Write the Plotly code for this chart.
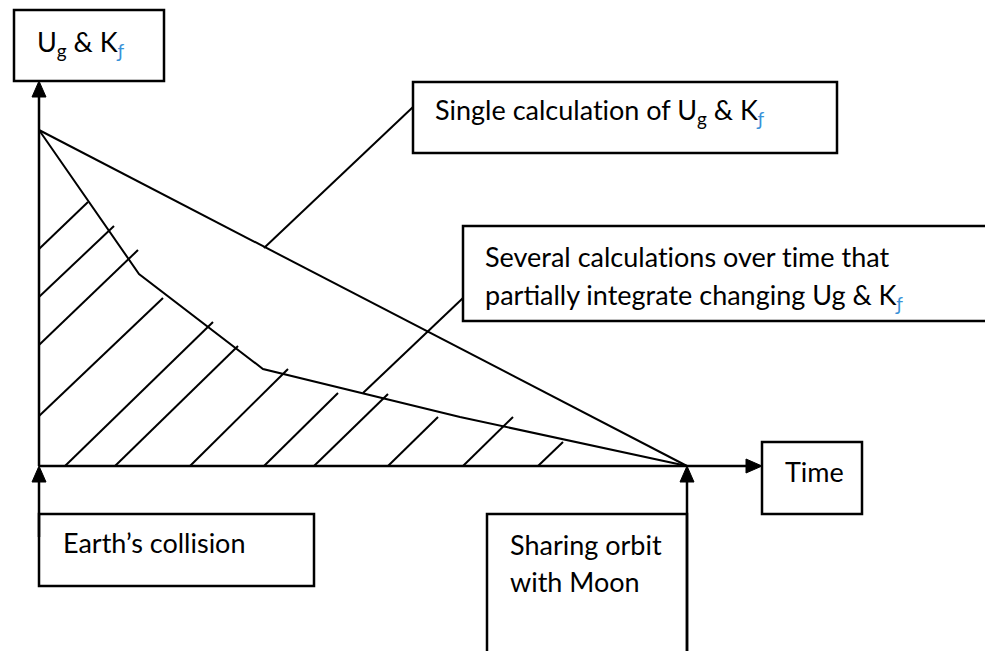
import plotly.graph_objects as go

# canvas coordinates (x to the right, y downward), origin of the axes at (39, 466)
ORIGIN_X, ORIGIN_Y = 39, 466
Y_AXIS_TIP = 81
X_AXIS_TIP = 762

# single calculation: straight line from peak to end
single_x = [39, 687]
single_y = [130, 466]

# several calculations: piecewise line
several_x = [39, 139, 263, 460, 687]
several_y = [130, 274, 369, 417, 466]

# hatch segments under the piecewise line
hatch_x0 = [39, 39, 39, 39, 65, 115, 190, 264, 314, 388, 463, 538]
hatch_y0 = [249, 297, 345, 416, 466, 466, 466, 466, 466, 466, 466, 466]
hatch_x1 = [88, 114, 138, 163, 213, 238, 288, 338, 388, 438, 513, 563]
hatch_y1 = [202, 226, 250, 298, 322, 346, 369, 393, 394, 417, 417, 442]

# callout leaders
leader_x = [[264, 413], [363, 463]]
leader_y = [[248, 107], [393, 298]]

# boxes: x0, y0, x1, y1
boxes = [
    (14, 10, 164, 81),
    (413, 82, 837, 153),
    (463, 226, 987, 321),
    (762, 442, 862, 514),
    (39, 514, 314, 586),
]
open_box = (487, 514, 687, 670)  # runs off the bottom of the page

# zero-width non-joiner keeps Lato from using its "ti" ligature
NJ = "\u200c"
KF = "K<sub><span style='color:#3a92d8'>ƒ</span></sub>"
labels = [
    (35, 43, "U<sub>g</sub> & " + KF),
    (433, 111, f"Single calculat{NJ}ion of U<sub>g</sub> & " + KF),
    (483, 256, f"Several calculat{NJ}ions over t{NJ}ime that"),
    (483, 296, "partially integrate changing Ug & " + KF),
    (783, 471, "Time"),
    (61, 542, "Earth\u2019s collision"),
    (508, 544, "Sharing orbit"),
    (508, 581, "with Moon"),
]

# the page body has an 8px margin, so the figure starts at (8, 8)
PAD = 8

fig = go.Figure()

line_style = dict(color="black", width=2)

# axes
fig.add_trace(go.Scatter(x=[ORIGIN_X, ORIGIN_X], y=[ORIGIN_Y, Y_AXIS_TIP + 14],
                         mode="lines", line=dict(color="black", width=2.5)))
fig.add_trace(go.Scatter(x=[ORIGIN_X, X_AXIS_TIP - 14], y=[ORIGIN_Y, ORIGIN_Y],
                         mode="lines", line=dict(color="black", width=2.5)))
# upward arrows from the boxes below
fig.add_trace(go.Scatter(x=[39, 39], y=[537, ORIGIN_Y + 14],
                         mode="lines", line=dict(color="black", width=2.5)))
fig.add_trace(go.Scatter(x=[687, 687], y=[660, ORIGIN_Y + 14],
                         mode="lines", line=dict(color="black", width=2.5)))

fig.add_trace(go.Scatter(x=single_x, y=single_y, mode="lines", line=line_style))
fig.add_trace(go.Scatter(x=several_x, y=several_y, mode="lines", line=line_style))

hx, hy = [], []
for a, b, c, d in zip(hatch_x0, hatch_y0, hatch_x1, hatch_y1):
    hx += [a, c, None]
    hy += [b, d, None]
fig.add_trace(go.Scatter(x=hx, y=hy, mode="lines", line=line_style))

for lx, ly in zip(leader_x, leader_y):
    fig.add_trace(go.Scatter(x=lx, y=ly, mode="lines", line=line_style))

shapes = []
for x0, y0, x1, y1 in boxes:
    shapes.append(dict(type="rect", xref="x", yref="y", x0=x0, y0=y0, x1=x1, y1=y1,
                       line=dict(color="black", width=2.5), fillcolor="white", layer="below"))
x0, y0, x1, y1 = open_box
shapes.append(dict(type="path", xref="x", yref="y",
                   path=f"M {x0} {y1} L {x0} {y0} L {x1} {y0} L {x1} {y1}",
                   line=dict(color="black", width=2.5)))


def arrow_up(x, tip):
    return f"M {x} {tip} L {x - 7} {tip + 16} L {x + 7} {tip + 16} Z"


def arrow_right(tip, y):
    return f"M {tip} {y} L {tip - 16} {y - 7} L {tip - 16} {y + 7} Z"


for p in [arrow_up(ORIGIN_X, Y_AXIS_TIP), arrow_up(39, ORIGIN_Y), arrow_up(687, ORIGIN_Y),
          arrow_right(X_AXIS_TIP, ORIGIN_Y)]:
    shapes.append(dict(type="path", xref="x", yref="y", path=p,
                       fillcolor="black", line=dict(color="black", width=1)))

annotations = [
    dict(x=x, y=y, xref="x", yref="y", text=t, showarrow=False,
         xanchor="left", yanchor="middle",
         font=dict(family="Lato, Carlito, sans-serif", size=27, color="black"))
    for x, y, t in labels
]

fig.update_layout(
    width=993 - PAD, height=651 - PAD,
    margin=dict(l=0, r=0, t=0, b=0),
    paper_bgcolor="white", plot_bgcolor="white",
    showlegend=False,
    shapes=shapes, annotations=annotations,
    xaxis=dict(range=[PAD, 993], visible=False, fixedrange=True),
    yaxis=dict(range=[651, PAD], visible=False, fixedrange=True),
)

fig.write_html("out.html")
